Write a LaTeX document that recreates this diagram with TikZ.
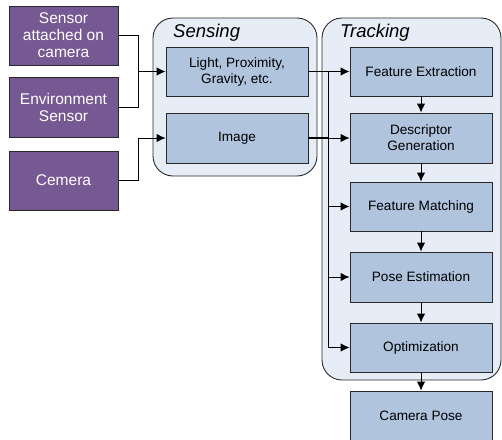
\documentclass[tikz,border=0pt]{standalone}
\usepackage{fontspec}
\setmainfont{Liberation Sans}
\usetikzlibrary{arrows.meta}
\definecolor{purp}{RGB}{118,88,146}
\definecolor{boxblue}{RGB}{176,196,222}
\definecolor{contblue}{RGB}{230,237,247}
\definecolor{edge}{RGB}{40,40,40}
\begin{document}
\begin{tikzpicture}[x=1pt,y=-1pt,
  purpbox/.style={draw=edge,line width=0.9pt,fill=purp,text=white,minimum width=109pt,inner sep=0pt,align=center,font=\fontsize{15.5}{17}\selectfont},
  bluebox/.style={draw=edge,line width=0.9pt,fill=boxblue,text=black,minimum width=142pt,inner sep=0pt,align=center,font=\fontsize{13.6}{16}\selectfont},
  container/.style={draw=edge,line width=0.9pt,fill=contblue,rounded corners=20pt},
  title/.style={anchor=base west,inner sep=0pt,font=\fontsize{18.5}{20}\selectfont\itshape},
  conn/.style={line width=0.9pt,draw=black},
  arr/.style={conn,-{Latex[length=9pt,width=8.5pt]}}]
\useasboundingbox (0,0) rectangle (502,439);
% containers
\draw[container] (153,18) rectangle (317,176);
\draw[container] (322,18) rectangle (501,380);
\node[title] (tsens) at (173,37) {Sensing};
\node[title] (ttrack) at (340,37) {Tracking};
% purple boxes
\node[purpbox,minimum height=59pt] (s1) at (63.5,35.5) {Sensor\\attached on\\camera};
\node[purpbox,minimum height=60pt] (s2) at (63.5,107) {Environment\\Sensor};
\node[purpbox,minimum height=59pt] (s3) at (63.5,180.5) {Cemera};
% sensing boxes
\node[bluebox,minimum height=49pt] (light) at (237,71.5) {Light, Proximity,\\Gravity, etc.};
\node[bluebox,minimum height=50pt] (img) at (237,138) {Image};
% tracking boxes
\node[bluebox,minimum height=49pt] (fe) at (421,71.5) {Feature Extraction};
\node[bluebox,minimum height=50pt] (dg) at (421,138) {Descriptor\\Generation};
\node[bluebox,minimum height=49pt] (fm) at (421,206.5) {Feature Matching};
\node[bluebox,minimum height=50pt] (pe) at (421,277) {Pose Estimation};
\node[bluebox,minimum height=49pt] (op) at (421,347.5) {Optimization};
\node[bluebox,minimum height=50pt] (cp) at (421,416) {Camera Pose};
% left connectors
\coordinate (j1) at (138,71.5);
\coordinate (j2) at (138,138);
\draw[conn] (s1.east) -| (j1);
\draw[conn] (s2.east) -| (j1);
\draw[arr] (j1) -- (light.west);
\draw[conn] (s3.east) -| (j2);
\draw[arr] (j2) -- (img.west);
% bus
\coordinate (bt) at (328,71.5);
\coordinate (bb) at (328,347.5);
\draw[arr] (light.east) -- (fe.west);
\draw[conn] (bt) -- (bb);
\draw[conn,line width=1.8pt] (img.east) -- (img.east -| bt);
\draw[arr] (img.east -| bt) -- (dg.west);
\draw[arr] (fm.west -| bt) -- (fm.west);
\draw[arr] (pe.west -| bt) -- (pe.west);
\draw[arr] (op.west -| bt) -- (op.west);
% vertical chain
\draw[arr] (fe.south) -- (dg.north);
\draw[arr] (dg.south) -- (fm.north);
\draw[arr] (fm.south) -- (pe.north);
\draw[arr] (pe.south) -- (op.north);
\draw[arr] (op.south) -- (cp.north);
\end{tikzpicture}
\end{document}
